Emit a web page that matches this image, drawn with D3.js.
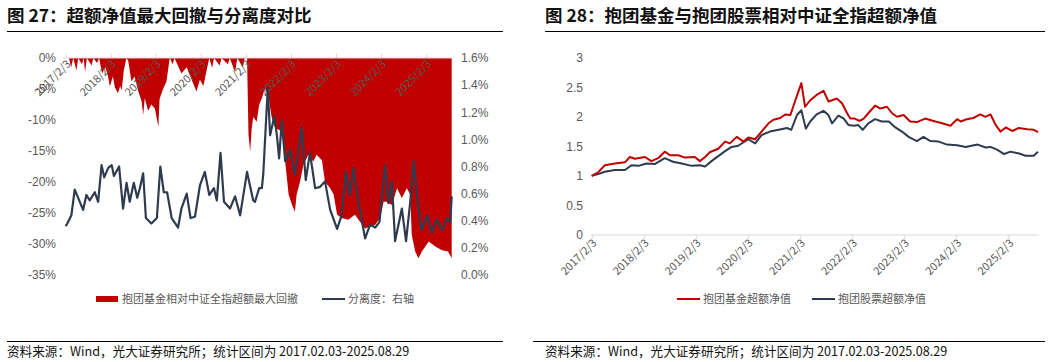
<!DOCTYPE html>
<html>
<head>
<meta charset="utf-8">
<script src="https://cdn.jsdelivr.net/npm/d3@7"></script>
<style>
  body { margin: 0; background: #fff; }
  svg { display: block; font-family: "Noto Sans CJK SC", "Noto Sans", sans-serif; }
</style>
</head>
<body>
<svg width="1057" height="362"></svg>
<script>
// year ticks shared by both charts
var tickDates = ["2017-02-03", "2018-02-03", "2019-02-03", "2020-02-03", "2021-02-03",
                 "2022-02-03", "2023-02-03", "2024-02-03", "2025-02-03"];
var tickLabels = ["2017/2/3", "2018/2/3", "2019/2/3", "2020/2/3", "2021/2/3",
                  "2022/2/3", "2023/2/3", "2024/2/3", "2025/2/3"];

// 图27: 抱团基金相对中证全指超额最大回撤 (%)
var drawdown = [
  ["2017-02-03", 0], ["2017-03-01", 0], ["2017-03-20", -1.5], ["2017-04-05", 0],
  ["2017-05-01", -2.0], ["2017-05-15", 0], ["2017-06-15", -1.0], ["2017-06-28", 0],
  ["2017-07-10", -2.2], ["2017-07-25", 0], ["2017-09-01", -1.2], ["2017-09-15", 0],
  ["2017-10-15", -0.8], ["2017-11-01", 0], ["2017-11-25", -2.5], ["2017-12-20", -1.5],
  ["2018-01-10", -2.8], ["2018-01-27", -4.6], ["2018-02-20", -3.0], ["2018-03-10", -4.8],
  ["2018-04-03", -5.7], ["2018-04-20", -4.5], ["2018-05-03", -5.2], ["2018-05-20", -2.0],
  ["2018-06-10", 0], ["2018-06-25", -0.5], ["2018-07-21", -3.8], ["2018-08-15", -3.0],
  ["2018-09-15", -5.4], ["2018-10-12", -7.0], ["2018-10-24", -9.2], ["2018-11-06", -6.5],
  ["2018-12-03", -8.5], ["2018-12-30", -7.5], ["2019-01-27", -8.2], ["2019-02-24", -11.1],
  ["2019-03-06", -6.6], ["2019-04-03", -5.0], ["2019-05-01", -3.8], ["2019-05-27", 0],
  ["2019-06-20", -1.0], ["2019-07-05", 0], ["2019-08-30", -2.5], ["2019-10-12", -1.5],
  ["2019-11-21", -3.5], ["2019-12-30", -5.4], ["2020-01-27", -3.5], ["2020-02-24", -4.5],
  ["2020-03-21", -2.0], ["2020-04-12", 0], ["2020-05-05", -1.6], ["2020-05-20", 0],
  ["2020-07-05", -1.2], ["2020-07-20", 0], ["2020-09-10", -1.0], ["2020-09-25", 0],
  ["2020-11-07", -2.3], ["2020-11-25", 0], ["2021-01-09", -1.5], ["2021-01-25", 0],
  ["2021-02-12", 0], ["2021-02-24", -12.4], ["2021-03-10", -15.1], ["2021-03-21", -11.5],
  ["2021-04-03", -9.5], ["2021-05-01", -10.3], ["2021-05-21", -7.6], ["2021-06-12", -6.5],
  ["2021-07-06", -4.9], ["2021-08-03", -6.0], ["2021-08-30", -9.5], ["2021-09-27", -11.3],
  ["2021-11-21", -11.8], ["2021-12-18", -16.7], ["2022-01-15", -22.0], ["2022-02-12", -23.7],
  ["2022-03-07", -24.8], ["2022-03-21", -22.0], ["2022-04-18", -19.9], ["2022-05-14", -17.3],
  ["2022-06-24", -15.6], ["2022-08-03", -16.7], ["2022-08-30", -15.6], ["2022-10-12", -16.5],
  ["2022-11-06", -20.0], ["2022-12-18", -21.0], ["2023-01-15", -22.0], ["2023-02-12", -25.3],
  ["2023-03-21", -25.8], ["2023-05-14", -26.1], ["2023-07-06", -25.3], ["2023-08-17", -26.4],
  ["2023-09-27", -27.5], ["2023-11-06", -27.2], ["2023-12-18", -26.9], ["2024-01-27", -25.8],
  ["2024-02-24", -23.2], ["2024-03-21", -23.2], ["2024-05-01", -23.7], ["2024-06-12", -21.0],
  ["2024-07-21", -22.6], ["2024-08-30", -21.0], ["2024-09-27", -22.0], ["2024-10-09", -28.5],
  ["2024-11-06", -31.2], ["2024-12-03", -32.3], ["2024-12-30", -31.2], ["2025-02-24", -29.6],
  ["2025-04-18", -30.4], ["2025-06-12", -31.0], ["2025-07-30", -31.2], ["2025-08-29", -32.3]
];

// 分离度 (%), right axis
var dispersion = [
  ["2017-02-03", 0.36], ["2017-02-16", 0.38], ["2017-03-21", 0.44], ["2017-04-17", 0.63],
  ["2017-05-14", 0.57], ["2017-06-24", 0.48], ["2017-07-21", 0.59], ["2017-08-17", 0.55],
  ["2017-09-27", 0.61], ["2017-10-24", 0.54], ["2017-11-21", 0.81], ["2017-12-12", 0.72],
  ["2018-01-14", 0.79], ["2018-02-11", 0.81], ["2018-03-01", 0.73], ["2018-04-12", 0.80],
  ["2018-05-14", 0.49], ["2018-06-11", 0.68], ["2018-07-07", 0.54], ["2018-08-09", 0.68],
  ["2018-09-06", 0.57], ["2018-09-27", 0.64], ["2018-10-24", 0.75], ["2018-11-15", 0.42],
  ["2018-12-30", 0.38], ["2019-02-12", 0.42], ["2019-03-12", 0.80], ["2019-04-09", 0.61],
  ["2019-05-06", 0.61], ["2019-06-12", 0.42], ["2019-08-03", 0.35], ["2019-08-30", 0.49],
  ["2019-10-12", 0.60], ["2019-11-12", 0.42], ["2019-12-18", 0.43], ["2020-01-27", 0.66],
  ["2020-03-07", 0.76], ["2020-04-12", 0.59], ["2020-05-20", 0.64], ["2020-06-12", 0.55],
  ["2020-07-12", 0.90], ["2020-08-09", 0.54], ["2020-09-27", 0.49], ["2020-11-07", 0.58],
  ["2020-12-18", 0.44], ["2021-02-12", 0.76], ["2021-04-03", 0.55], ["2021-04-18", 0.54],
  ["2021-05-21", 0.64], ["2021-06-12", 0.64], ["2021-06-24", 0.75], ["2021-07-30", 1.38],
  ["2021-08-18", 1.03], ["2021-09-21", 1.17], ["2021-10-12", 1.03], ["2021-10-30", 0.86],
  ["2021-11-21", 1.14], ["2021-12-18", 0.84], ["2022-01-27", 0.92], ["2022-03-07", 0.74],
  ["2022-05-01", 1.09], ["2022-06-03", 0.70], ["2022-07-07", 0.90], ["2022-08-18", 0.64],
  ["2022-09-27", 0.65], ["2022-11-06", 0.69], ["2022-12-18", 0.48], ["2023-02-12", 0.34],
  ["2023-03-21", 0.44], ["2023-04-24", 0.76], ["2023-05-27", 0.59], ["2023-06-24", 0.79],
  ["2023-08-03", 0.54], ["2023-09-27", 0.27], ["2023-11-06", 0.37], ["2023-12-18", 0.35],
  ["2024-01-21", 0.39], ["2024-03-07", 0.81], ["2024-04-03", 0.53], ["2024-05-01", 0.69],
  ["2024-05-27", 0.25], ["2024-07-21", 0.49], ["2024-08-24", 0.25], ["2024-09-27", 0.54],
  ["2024-10-24", 0.84], ["2024-11-21", 0.59], ["2024-12-27", 0.33], ["2025-02-12", 0.44],
  ["2025-03-21", 0.31], ["2025-04-30", 0.41], ["2025-06-12", 0.33], ["2025-07-21", 0.42],
  ["2025-08-17", 0.39], ["2025-08-29", 0.58]
];

// 图28: 抱团基金超额净值
var fundNav = [
  ["2017-02-03", 1.00], ["2017-03-20", 1.06], ["2017-05-06", 1.18], ["2017-07-15", 1.21],
  ["2017-09-24", 1.23], ["2017-10-28", 1.32], ["2017-12-03", 1.29], ["2018-02-12", 1.32],
  ["2018-03-28", 1.25], ["2018-05-15", 1.30], ["2018-06-30", 1.41], ["2018-08-06", 1.35],
  ["2018-10-03", 1.35], ["2018-11-18", 1.31], ["2019-01-27", 1.32], ["2019-03-03", 1.25],
  ["2019-04-09", 1.32], ["2019-05-12", 1.40], ["2019-07-10", 1.46], ["2019-08-27", 1.58],
  ["2019-09-30", 1.55], ["2019-11-17", 1.66], ["2020-01-03", 1.58], ["2020-02-06", 1.65],
  ["2020-03-25", 1.62], ["2020-05-09", 1.75], ["2020-06-27", 1.89], ["2020-07-31", 1.95],
  ["2020-09-17", 1.98], ["2020-10-21", 2.04], ["2020-11-27", 2.03], ["2021-01-01", 2.28],
  ["2021-02-12", 2.57], ["2021-03-10", 2.17], ["2021-04-15", 2.28], ["2021-05-30", 2.37],
  ["2021-07-17", 2.44], ["2021-08-21", 2.26], ["2021-09-15", 2.28], ["2021-10-18", 2.31],
  ["2021-11-24", 2.23], ["2021-12-30", 2.06], ["2022-01-21", 1.97], ["2022-02-20", 1.97],
  ["2022-03-27", 1.93], ["2022-04-25", 1.97], ["2022-05-27", 2.06], ["2022-07-14", 2.19],
  ["2022-08-20", 2.14], ["2022-10-05", 2.17], ["2022-11-10", 2.06], ["2022-12-15", 2.00],
  ["2023-01-30", 2.03], ["2023-03-17", 1.92], ["2023-05-03", 1.91], ["2023-06-30", 1.97],
  ["2023-08-27", 1.93], ["2023-10-27", 1.89], ["2023-12-24", 1.85], ["2024-02-09", 1.96],
  ["2024-03-05", 1.92], ["2024-04-18", 1.96], ["2024-06-01", 1.98], ["2024-07-21", 2.04],
  ["2024-08-25", 2.00], ["2024-09-30", 2.04], ["2024-11-06", 1.86], ["2024-12-09", 1.75],
  ["2025-01-15", 1.82], ["2025-03-01", 1.76], ["2025-04-15", 1.81], ["2025-06-15", 1.79],
  ["2025-07-30", 1.78], ["2025-08-29", 1.74]
];

// 抱团股票超额净值
var stockNav = [
  ["2017-02-03", 1.00], ["2017-03-20", 1.03], ["2017-05-05", 1.07], ["2017-07-15", 1.10],
  ["2017-09-24", 1.10], ["2017-11-09", 1.18], ["2017-12-27", 1.17], ["2018-02-24", 1.21],
  ["2018-04-21", 1.20], ["2018-06-30", 1.30], ["2018-08-27", 1.24], ["2018-10-27", 1.21],
  ["2019-01-05", 1.17], ["2019-03-03", 1.18], ["2019-04-09", 1.16], ["2019-05-24", 1.25],
  ["2019-08-27", 1.42], ["2019-10-12", 1.49], ["2019-11-27", 1.51], ["2020-02-06", 1.62],
  ["2020-03-25", 1.55], ["2020-05-09", 1.69], ["2020-07-06", 1.75], ["2020-09-06", 1.78],
  ["2020-11-03", 1.81], ["2020-12-03", 1.78], ["2021-01-12", 2.03], ["2021-02-12", 2.11],
  ["2021-03-15", 1.80], ["2021-04-15", 1.92], ["2021-05-30", 2.04], ["2021-07-17", 2.10],
  ["2021-08-21", 2.03], ["2021-09-15", 1.89], ["2021-10-30", 2.02], ["2021-12-06", 1.97],
  ["2022-01-09", 1.86], ["2022-02-15", 1.85], ["2022-03-18", 1.86], ["2022-04-18", 1.78],
  ["2022-05-27", 1.89], ["2022-07-14", 1.96], ["2022-08-30", 1.92], ["2022-10-18", 1.92],
  ["2022-12-03", 1.82], ["2023-01-18", 1.75], ["2023-03-06", 1.66], ["2023-05-03", 1.59],
  ["2023-06-18", 1.66], ["2023-08-06", 1.59], ["2023-10-03", 1.58], ["2023-11-30", 1.53],
  ["2024-02-09", 1.52], ["2024-04-09", 1.49], ["2024-07-01", 1.53], ["2024-08-27", 1.48],
  ["2024-09-30", 1.49], ["2024-11-18", 1.44], ["2025-01-03", 1.37], ["2025-02-18", 1.41],
  ["2025-04-18", 1.38], ["2025-06-03", 1.34], ["2025-07-30", 1.34], ["2025-08-29", 1.41]
];

var leftTicks = [0, -5, -10, -15, -20, -25, -30, -35];
var rightTicks = [0, 0.2, 0.4, 0.6, 0.8, 1.0, 1.2, 1.4, 1.6];
var navTicks = [0, 0.5, 1, 1.5, 2, 2.5, 3];

var RED = "#c00000", NAVY = "#2e3b4f", GREY = "#595959", AXIS = "#d9d9d9";

var parse = d3.timeParse("%Y-%m-%d");
var toPts = function (arr) { return arr.map(function (d) { return { date: parse(d[0]), v: d[1] }; }); };
var ddPts = toPts(drawdown), dispPts = toPts(dispersion);
var fundPts = toPts(fundNav), stockPts = toPts(stockNav);
var ticks = tickDates.map(parse);
var dateRange = [parse("2017-02-03"), parse("2025-08-29")];

var svg = d3.select("svg");
svg.append("rect").attr("width", 1057).attr("height", 362).attr("fill", "#fff");

// ---------- titles, rules and footers ----------
function frame(x0, x1, lineX0, title) {
    svg.append("text").attr("x", x0).attr("y", 22)
        .attr("font-size", 17.5).attr("font-weight", "bold").attr("fill", "#111")
        .text(title);
    svg.append("line").attr("x1", x0).attr("x2", x1).attr("y1", 31.5).attr("y2", 31.5)
        .attr("stroke", "#000").attr("stroke-width", 1);
    svg.append("line").attr("x1", lineX0).attr("x2", x1).attr("y1", 341.5).attr("y2", 341.5)
        .attr("stroke", "#000").attr("stroke-width", 1);
    svg.append("text").attr("x", x0).attr("y", 356)
        .attr("font-size", 12.6).attr("fill", "#111")
        .text("资料来源：Wind，光大证券研究所；统计区间为 2017.02.03-2025.08.29");
}
frame(7, 503, 7, "图 27：超额净值最大回撤与分离度对比");
frame(545, 1045, 533, "图 28：抱团基金与抱团股票相对中证全指超额净值");

// ---------- left chart ----------
var xL = d3.scaleTime().domain(dateRange).range([65.7, 451.7]);
var yL = d3.scaleLinear().domain([-35, 0]).range([275, 58]);
var yR = d3.scaleLinear().domain([0, 1.6]).range([275, 58]);

var area = d3.area()
    .x(function (d) { return xL(d.date); })
    .y0(yL(0))
    .y1(function (d) { return yL(d.v); });

svg.append("path").datum(ddPts).attr("d", area).attr("fill", RED);

var gx = svg.append("g").attr("transform", "translate(0," + yL(0) + ")")
    .call(d3.axisTop(xL).tickValues(ticks).tickFormat("").tickSize(4).tickSizeOuter(0));
gx.select(".domain").attr("stroke", AXIS).attr("d", "M63,0H452");
gx.selectAll(".tick line").attr("stroke", AXIS);

svg.append("g").selectAll("text").data(ticks).enter().append("text")
    .attr("transform", function (d) { return "translate(" + (xL(d) + 3) + ",62) rotate(-45)"; })
    .attr("text-anchor", "end").attr("dy", "0.35em")
    .attr("font-size", 11).attr("fill", GREY)
    .text(function (d, i) { return tickLabels[i]; });

var gyl = svg.append("g").attr("transform", "translate(56,0)")
    .call(d3.axisLeft(yL).tickValues(leftTicks).tickSize(0).tickPadding(0)
        .tickFormat(function (d) { return d + "%"; }));
gyl.select(".domain").remove();
gyl.selectAll("text").attr("font-size", 12).attr("fill", GREY).attr("font-family", null);

var gyr = svg.append("g").attr("transform", "translate(461,0)")
    .call(d3.axisRight(yR).tickValues(rightTicks).tickSize(0).tickPadding(0)
        .tickFormat(function (d) { return d.toFixed(1) + "%"; }));
gyr.select(".domain").remove();
gyr.selectAll("text").attr("font-size", 12).attr("fill", GREY).attr("font-family", null);

var dispLine = d3.line()
    .x(function (d) { return xL(d.date); })
    .y(function (d) { return yR(d.v); });
svg.append("path").datum(dispPts).attr("d", dispLine)
    .attr("fill", "none").attr("stroke", NAVY).attr("stroke-width", 2.2)
    .attr("stroke-linejoin", "round");

// left legend
svg.append("rect").attr("x", 96).attr("y", 296).attr("width", 22).attr("height", 6).attr("fill", RED);
svg.append("text").attr("x", 122).attr("y", 303).attr("font-size", 11).attr("fill", GREY)
    .text("抱团基金相对中证全指超额最大回撤");
svg.append("line").attr("x1", 322).attr("x2", 345).attr("y1", 299).attr("y2", 299)
    .attr("stroke", NAVY).attr("stroke-width", 2);
svg.append("text").attr("x", 348).attr("y", 303).attr("font-size", 11).attr("fill", GREY)
    .text("分离度：右轴");

// ---------- right chart ----------
var xR = d3.scaleTime().domain(dateRange).range([591.7, 1038]);
var yN = d3.scaleLinear().domain([0, 3]).range([235, 57.7]);

var gxr = svg.append("g").attr("transform", "translate(0," + yN(0) + ")")
    .call(d3.axisBottom(xR).tickValues(ticks).tickFormat("").tickSize(4).tickSizeOuter(0));
gxr.select(".domain").attr("stroke", AXIS).attr("d", "M591,0H1039");
gxr.selectAll(".tick line").attr("stroke", AXIS);

svg.append("g").selectAll("text").data(ticks).enter().append("text")
    .attr("transform", function (d) { return "translate(" + (xR(d) + 3) + ",241) rotate(-45)"; })
    .attr("text-anchor", "end").attr("dy", "0.35em")
    .attr("font-size", 11).attr("fill", GREY)
    .text(function (d, i) { return tickLabels[i]; });

var gyn = svg.append("g").attr("transform", "translate(583,0)")
    .call(d3.axisLeft(yN).tickValues(navTicks).tickSize(0).tickPadding(0)
        .tickFormat(function (d) { return String(d); }));
gyn.select(".domain").remove();
gyn.selectAll("text").attr("font-size", 12).attr("fill", GREY).attr("font-family", null);

var navLine = d3.line()
    .x(function (d) { return xR(d.date); })
    .y(function (d) { return yN(d.v); });
svg.append("path").datum(stockPts).attr("d", navLine)
    .attr("fill", "none").attr("stroke", NAVY).attr("stroke-width", 2).attr("stroke-linejoin", "round");
svg.append("path").datum(fundPts).attr("d", navLine)
    .attr("fill", "none").attr("stroke", RED).attr("stroke-width", 2).attr("stroke-linejoin", "round");

// right legend
svg.append("line").attr("x1", 677).attr("x2", 700).attr("y1", 299).attr("y2", 299)
    .attr("stroke", RED).attr("stroke-width", 2);
svg.append("text").attr("x", 703).attr("y", 303).attr("font-size", 11).attr("fill", GREY)
    .text("抱团基金超额净值");
svg.append("line").attr("x1", 812).attr("x2", 835).attr("y1", 299).attr("y2", 299)
    .attr("stroke", NAVY).attr("stroke-width", 2);
svg.append("text").attr("x", 838).attr("y", 303).attr("font-size", 11).attr("fill", GREY)
    .text("抱团股票超额净值");
</script>
</body>
</html>
